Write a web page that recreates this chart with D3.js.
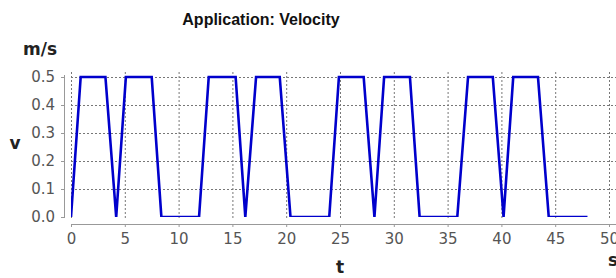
<!DOCTYPE html>
<html>
<head>
<meta charset="utf-8">
<script src="https://cdn.jsdelivr.net/npm/d3@7"></script>
<style>
  body { margin: 0; background: #fff; }
  svg { display: block; }
</style>
</head>
<body>
<div id="chart"></div>
<script>
// time (s) and velocity (m/s)
const times = [0, 0.9, 3.2, 4.2, 5.1, 7.5, 8.4, 11.9, 12.8, 15.3, 16.2, 17.2, 19.4, 20.4,
  24.0, 24.9, 27.2, 28.2, 29.1, 31.5, 32.4, 35.9, 36.9, 39.2, 40.2, 41.1, 43.4, 44.4, 48.0];
const velocity = [0, 0.5, 0.5, 0, 0.5, 0.5, 0, 0, 0.5, 0.5, 0, 0.5, 0.5, 0,
  0, 0.5, 0.5, 0, 0.5, 0.5, 0, 0, 0.5, 0.5, 0, 0.5, 0.5, 0, 0];
const xTicks = [0, 5, 10, 15, 20, 25, 30, 35, 40, 45, 50];
const yTicks = [0, 0.1, 0.2, 0.3, 0.4, 0.5];

const width = 616, height = 278;
const plot = { left: 71, right: 616, top: 72, bottom: 217 };

const svg = d3.select("#chart").append("svg")
  .attr("width", width)
  .attr("height", height);

const x = d3.scaleLinear().domain([0, 50]).range([71, 609]);
const y = d3.scaleLinear().domain([0, 0.5]).range([217, 77]);

// grid lines
svg.append("g").selectAll("line").data(xTicks).enter().append("line")
  .attr("x1", d => x(d) + 0.5).attr("x2", d => x(d) + 0.5)
  .attr("y1", plot.top).attr("y2", plot.bottom + 1)
  .attr("stroke", "#777").attr("stroke-dasharray", "2,2");

svg.append("g").selectAll("line").data(yTicks.slice(1)).enter().append("line")
  .attr("x1", plot.left).attr("x2", plot.right)
  .attr("y1", d => Math.round(y(d)) + 0.5).attr("y2", d => Math.round(y(d)) + 0.5)
  .attr("stroke", "#777").attr("stroke-dasharray", "2,2");

// x axis (offset below the plot)
const xAxis = svg.append("g")
  .attr("transform", "translate(0,224)")
  .call(d3.axisBottom(x).tickValues(xTicks).tickSize(3).tickPadding(6).tickFormat(d3.format("d")));
xAxis.select(".domain").attr("d", "M71,0.5H616").attr("stroke", "#999");
xAxis.selectAll(".tick line").attr("stroke", "#999");
xAxis.selectAll("text")
  .style("font-family", "DejaVu Sans").style("font-size", "15px").attr("fill", "#555");

// y axis (offset left of the plot)
const yAxis = svg.append("g")
  .attr("transform", "translate(64,0)")
  .call(d3.axisLeft(y).tickValues(yTicks).tickSize(3).tickPadding(6).tickFormat(d3.format(".1f")));
yAxis.select(".domain").attr("d", "M0.5,75V218").attr("stroke", "#999");
yAxis.selectAll(".tick line").attr("stroke", "#999");
yAxis.selectAll("text")
  .style("font-family", "DejaVu Sans").style("font-size", "15px").attr("fill", "#555");

// clip for the series
svg.append("clipPath").attr("id", "clip")
  .append("rect")
  .attr("x", plot.left).attr("y", plot.top)
  .attr("width", plot.right - plot.left).attr("height", plot.bottom - plot.top);

const line = d3.line()
  .x(d => x(d[0]))
  .y(d => y(d[1]));

svg.append("path")
  .datum(d3.zip(times, velocity))
  .attr("clip-path", "url(#clip)")
  .attr("fill", "none")
  .attr("stroke", "#0000cc")
  .attr("stroke-width", 2.6)
  .attr("stroke-linejoin", "miter")
  .attr("d", line);

// title and axis labels
svg.append("text")
  .attr("x", 261).attr("y", 25)
  .attr("text-anchor", "middle")
  .style("font-family", "Liberation Sans").style("font-weight", "bold").style("font-size", "16px")
  .attr("fill", "#111")
  .text("Application: Velocity");

const labelStyle = sel => sel
  .style("font-family", "DejaVu Sans").style("font-weight", "bold").style("font-size", "17px")
  .attr("fill", "#222");

svg.append("text").attr("x", 23).attr("y", 55).call(labelStyle).text("m/s");
svg.append("text").attr("x", 15).attr("y", 149).attr("text-anchor", "middle").call(labelStyle).text("v");
svg.append("text").attr("x", 340).attr("y", 273).attr("text-anchor", "middle").call(labelStyle).text("t");
svg.append("text").attr("x", 608).attr("y", 266).call(labelStyle).text("s");
</script>
</body>
</html>
